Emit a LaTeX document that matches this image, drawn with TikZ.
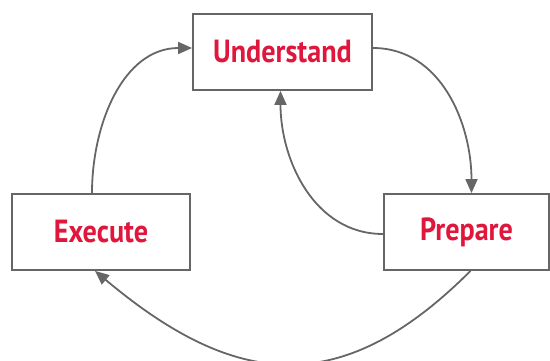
\documentclass[tikz,border=0pt]{standalone}
\usepackage{fontspec}
\setmainfont{PT Sans}[FakeStretch=0.88]
\usetikzlibrary{arrows.meta}
\definecolor{stagered}{HTML}{E0173C}
\definecolor{linegray}{HTML}{666666}
\tikzset{
  stagebox/.style={draw=linegray, line width=1.8pt, fill=white, minimum height=76pt,
    text=stagered, font=\bfseries\fontsize{32}{38}\selectfont},
  cycle/.style={draw=linegray, line width=1.8pt, -{Triangle[length=14pt,width=12pt]}}
}
\begin{document}
\begin{tikzpicture}[x=1pt,y=1pt]
    \useasboundingbox (0,0) rectangle (550,360);
    \node[stagebox, minimum width=179pt] (U) at (282.5,308) {Understand};
    \node[stagebox, minimum width=178pt] (E) at (101,128) {Execute};
    \node[stagebox, minimum width=165pt] (P) at (466.5,128) {Prepare};
    \draw[cycle] ([yshift=4pt]U.east) to[out=0, in=90] ([xshift=5pt]P.north);
    \draw[cycle] ([yshift=-2pt]P.west) to[out=180, in=-90] ([xshift=-2pt]U.south);
    \draw[cycle] ([xshift=-9pt]E.north) to[out=90, in=180] ([yshift=4pt]U.west);
    \draw[cycle] ([xshift=4pt]P.south) to[out=-135, in=-40, looseness=1.25] ([xshift=-6pt]E.south);
\end{tikzpicture}
\end{document}
